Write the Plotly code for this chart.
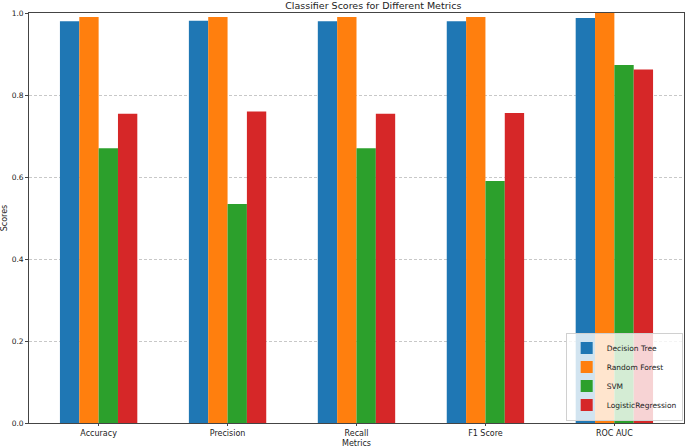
import plotly.graph_objects as go

metrics = ["Accuracy", "Precision", "Recall", "F1 Score", "ROC AUC"]
decision_tree = [0.980, 0.981, 0.980, 0.980, 0.988]
random_forest = [0.990, 0.990, 0.990, 0.990, 1.000]
svm = [0.670, 0.534, 0.670, 0.590, 0.873]
logistic_regression = [0.754, 0.760, 0.754, 0.756, 0.862]
y_ticks = [0.0, 0.2, 0.4, 0.6, 0.8, 1.0]

series = [
    ("Decision Tree", decision_tree, "#1f77b4"),
    ("Random Forest", random_forest, "#ff7f0e"),
    ("SVM", svm, "#2ca02c"),
    ("LogisticRegression", logistic_regression, "#d62728"),
]

bar_w = 0.15
positions = list(range(len(metrics)))

fig = go.Figure()
for i, (name, vals, color) in enumerate(series):
    fig.add_trace(go.Bar(x=positions, y=vals, name=name, width=bar_w,
                         offset=-2 * bar_w + i * bar_w,
                         marker=dict(color=color, line=dict(width=0))))

font = "DejaVu Sans"
fig.update_layout(
    width=685, height=448,
    margin=dict(l=29, r=1, t=13, b=25),
    plot_bgcolor="white", paper_bgcolor="white",
    barmode="overlay",
    font=dict(family=font, size=8, color="#222"),
    title=dict(text="Classifier Scores for Different Metrics", x=0.545, xanchor="center",
               y=0.995, yanchor="top", font=dict(size=9.5, color="#222")),
    showlegend=True,
    legend=dict(x=0.998, y=0.006, xanchor="right", yanchor="bottom",
                bgcolor="rgba(255,255,255,0.8)", bordercolor="#d0d0d0", borderwidth=1,
                font=dict(size=7.5), tracegroupgap=0, itemwidth=30),
    xaxis=dict(range=[-0.54, 4.54], tickvals=positions, ticktext=metrics,
               showline=True, linecolor="#444", linewidth=0.8, mirror=True,
               ticks="outside", ticklen=2, tickcolor="#444", showgrid=False,
               zeroline=False, tickfont=dict(size=8), automargin=False),
    yaxis=dict(title=dict(text="Scores", standoff=6, font=dict(size=8)),
               range=[0, 1.0], tickvals=y_ticks, ticktext=[f"{v:.1f}" for v in y_ticks],
               showline=True, linecolor="#444", linewidth=0.8, mirror=True,
               ticks="outside", ticklen=3, tickcolor="#444",
               showgrid=True, gridcolor="rgba(176,176,176,0.7)", griddash="3px,2px", gridwidth=0.6,
               zeroline=False, tickfont=dict(size=7.5), automargin=False),
    annotations=[dict(text="Metrics", xref="paper", yref="paper", x=0.5, y=-0.034,
                      xanchor="center", yanchor="top", showarrow=False,
                      font=dict(size=8, color="#222"))],
)
fig.write_html("out.html", config={"displayModeBar": False},
               post_script="document.body.style.margin='0';document.body.style.overflow='hidden';")
